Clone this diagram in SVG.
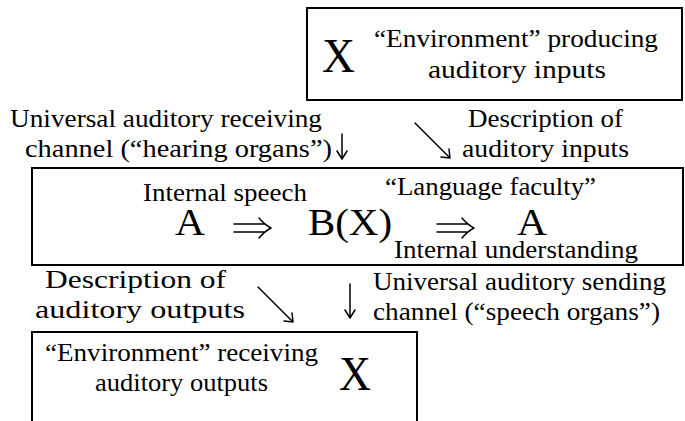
<svg xmlns="http://www.w3.org/2000/svg" width="685" height="421" viewBox="0 0 685 421">
<style>
.box{fill:#fff;stroke:#000;stroke-width:2}
.t{font-family:"Liberation Serif","Times New Roman",serif;font-size:26px;fill:#000}
.big{font-family:"Liberation Serif","Times New Roman",serif;font-size:48px;fill:#000}
.math{font-family:"Liberation Serif","Times New Roman",serif;font-size:37px;fill:#000}
.arr{fill:none;stroke:#000;stroke-width:1.5;stroke-linecap:round;stroke-linejoin:round}
</style>
<rect width="685" height="421" fill="#fff"/>
<g id="env-in">
<rect class="box" x="307" y="8" width="375" height="92"/>
<text class="big" x="322" y="72" textLength="33" lengthAdjust="spacingAndGlyphs">X</text>
<text class="t" x="374" y="47" textLength="284" lengthAdjust="spacingAndGlyphs">“Environment” producing</text>
<text class="t" x="428" y="78" textLength="178" lengthAdjust="spacingAndGlyphs">auditory inputs</text>
</g>
<g id="faculty">
<rect class="box" x="32" y="168" width="651" height="97"/>
<text class="t" x="143" y="201" textLength="164" lengthAdjust="spacingAndGlyphs">Internal speech</text>
<text class="t" x="385" y="195" textLength="211" lengthAdjust="spacingAndGlyphs">“Language faculty”</text>
<text class="math" x="175" y="235" textLength="30" lengthAdjust="spacingAndGlyphs">A</text>
<text class="math" x="308" y="235" textLength="84" lengthAdjust="spacingAndGlyphs">B(X)</text>
<text class="math" x="517" y="235" textLength="30" lengthAdjust="spacingAndGlyphs">A</text>
<text class="t" x="394" y="258" textLength="244" lengthAdjust="spacingAndGlyphs">Internal understanding</text>
<path class="arr" d="M234 224H264M234 232H264M259 218Q265 225 271 228Q265 231 259 238"/>
<path class="arr" d="M437 224H467M437 232H467M462 218Q468 225 474 228Q468 231 462 238"/>
</g>
<g id="env-out">
<rect class="box" x="32" y="332" width="385" height="100"/>
<text class="t" x="45" y="361" textLength="273" lengthAdjust="spacingAndGlyphs">“Environment” receiving</text>
<text class="t" x="95" y="391" textLength="173" lengthAdjust="spacingAndGlyphs">auditory outputs</text>
<text class="big" x="339" y="390" textLength="32" lengthAdjust="spacingAndGlyphs">X</text>
</g>
<g id="labels">
<text class="t" x="10" y="127" textLength="312" lengthAdjust="spacingAndGlyphs">Universal auditory receiving</text>
<text class="t" x="25" y="157" textLength="307" lengthAdjust="spacingAndGlyphs">channel (“hearing organs”)</text>
<text class="t" x="468" y="127" textLength="155" lengthAdjust="spacingAndGlyphs">Description of</text>
<text class="t" x="462" y="157" textLength="167" lengthAdjust="spacingAndGlyphs">auditory inputs</text>
<text class="t" x="45" y="288" textLength="181" lengthAdjust="spacingAndGlyphs">Description of</text>
<text class="t" x="35" y="318" textLength="210" lengthAdjust="spacingAndGlyphs">auditory outputs</text>
<text class="t" x="373" y="290" textLength="293" lengthAdjust="spacingAndGlyphs">Universal auditory sending</text>
<text class="t" x="373" y="320" textLength="287" lengthAdjust="spacingAndGlyphs">channel (“speech organs”)</text>
</g>
<g id="connectors">
<path class="arr" d="M342 134V159M337 151L342 159L347 151"/>
<path class="arr" d="M415 123L450 158M449 149L450 158L441 157"/>
<path class="arr" d="M258 287L293 322M292 313L293 322L284 321"/>
<path class="arr" d="M350 284V318M345 310L350 318L355 310"/>
</g>
</svg>
